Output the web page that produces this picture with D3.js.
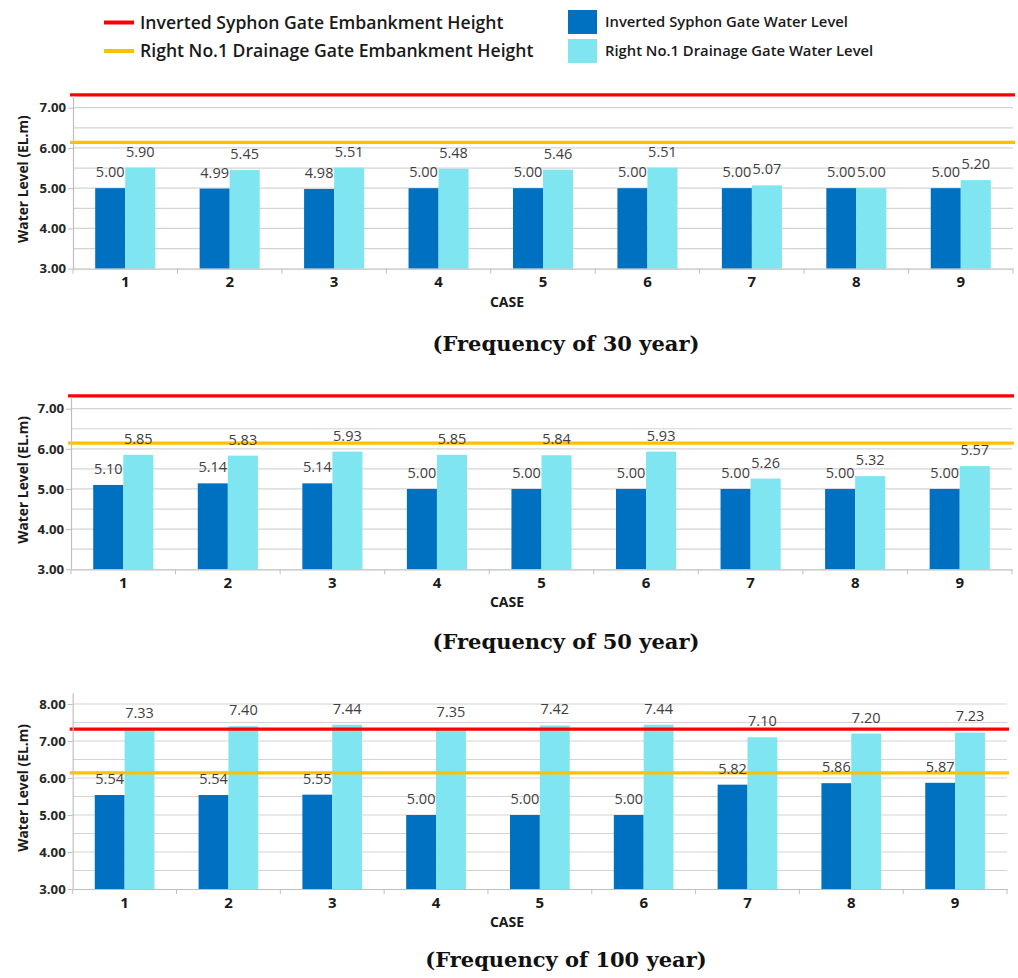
<!DOCTYPE html>
<html><head><meta charset="utf-8">
<script src="https://cdn.jsdelivr.net/npm/d3@7"></script>
<style>body{margin:0;background:#fff}</style>
</head><body>
<svg id="c" width="1018" height="978"></svg>
<script>
// ---- data ----
const cases = ["1","2","3","4","5","6","7","8","9"];
const syphon30 = [5.00,4.99,4.98,5.00,5.00,5.00,5.00,5.00,5.00];
const drainage30 = [5.51,5.45,5.51,5.48,5.46,5.51,5.07,5.00,5.20];
const drainage30Labels = ["5.90","5.45","5.51","5.48","5.46","5.51","5.07","5.00","5.20"];
const syphon50 = [5.10,5.14,5.14,5.00,5.00,5.00,5.00,5.00,5.00];
const drainage50 = [5.85,5.83,5.93,5.85,5.84,5.93,5.26,5.32,5.57];
const syphon100 = [5.54,5.54,5.55,5.00,5.00,5.00,5.82,5.86,5.87];
const drainage100 = [7.33,7.40,7.44,7.35,7.42,7.44,7.10,7.20,7.23];
const syphonEmbankment = 7.32;
const drainageEmbankment = 6.14;
const yTicksA = [3,4,5,6,7];
const yTicksB = [3,4,5,6,7,8];
const captions = ["(Frequency of 30 year)","(Frequency of 50 year)","(Frequency of 100 year)"];
const legendLines = ["Inverted Syphon Gate Embankment Height","Right No.1 Drainage Gate Embankment Height"];
const legendBars = ["Inverted Syphon Gate Water Level","Right No.1 Drainage Gate Water Level"];

// ---- styles ----
const C_DARK = "#0070C0", C_LIGHT = "#7FE5F0", C_RED = "#FF0000", C_YEL = "#FFC000";
const FONT = "'Open Sans', 'Noto Sans', sans-serif";
const svg = d3.select("#c");

// ---- legend ----
const lg = svg.append("g");
[C_RED, C_YEL].forEach((c,i)=>{
  const y = 22.5 + i*28.5;
  lg.append("line").attr("x1",104).attr("x2",134).attr("y1",y).attr("y2",y)
    .attr("stroke",c).attr("stroke-width",4);
  lg.append("text").attr("x",140).attr("y",y).attr("dy","0.36em")
    .attr("font-family",FONT).attr("font-weight",600).attr("font-size",17.6)
    .attr("fill","#1a1a1a").text(legendLines[i]);
});
[C_DARK, C_LIGHT].forEach((c,i)=>{
  const y = 10 + i*29;
  lg.append("rect").attr("x",568).attr("y",y).attr("width",29).attr("height",24).attr("fill",c);
  lg.append("text").attr("x",605).attr("y",y+12).attr("dy","0.36em")
    .attr("font-family",FONT).attr("font-weight",600).attr("font-size",14.8)
    .attr("fill","#1a1a1a").text(legendBars[i]);
});

// ---- panels ----
const panels = [
  {syph: syphon30, drain: drainage30, labels: drainage30Labels, ticks: yTicksA, yMax: 7.3,
   x0: 73, x1: 1013, yBot: 268.7, yTop: 95.6, cap: captions[0], capY: 344},
  {syph: syphon50, drain: drainage50, labels: null, ticks: yTicksA, yMax: 7.3,
   x0: 71, x1: 1012, yBot: 569.3, yTop: 396.6, cap: captions[1], capY: 642},
  {syph: syphon100, drain: drainage100, labels: null, ticks: yTicksB, yMax: 8.3,
   x0: 72.7, x1: 1007, yBot: 889, yTop: 692.9, cap: captions[2], capY: 960}
];

panels.forEach(p=>{
  const g = svg.append("g");
  const x = d3.scaleBand().domain(cases).range([p.x0, p.x1]).padding(0);
  const y = d3.scaleLinear().domain([3, p.yMax]).range([p.yBot, p.yTop]);
  const bw = x.bandwidth()*0.2875;

  // gridlines every 0.5
  const grid = d3.range(3.5, p.yMax+0.001, 0.5);
  g.append("g").selectAll("line").data(grid).join("line")
    .attr("x1",p.x0).attr("x2",p.x1).attr("y1",d=>y(d)).attr("y2",d=>y(d))
    .attr("stroke","#d4d4d4").attr("stroke-width",1.2);

  const rows = cases.map((c,i)=>({c, s:p.syph[i], d:p.drain[i],
      dl: p.labels ? p.labels[i] : d3.format(".2f")(p.drain[i])}));

  // bars
  g.append("g").selectAll("rect").data(rows).join("rect")
    .attr("x",d=>x(d.c)+x.bandwidth()/2-bw).attr("width",bw)
    .attr("y",d=>y(d.s)).attr("height",d=>y(3)-y(d.s)).attr("fill",C_DARK);
  g.append("g").selectAll("rect").data(rows).join("rect")
    .attr("x",d=>x(d.c)+x.bandwidth()/2).attr("width",bw)
    .attr("y",d=>y(d.d)).attr("height",d=>y(3)-y(d.d)).attr("fill",C_LIGHT);

  // embankment lines
  [[syphonEmbankment,C_RED],[drainageEmbankment,C_YEL]].forEach(([v,c])=>{
    g.append("line").attr("x1",p.x0-3).attr("x2",p.x1+2).attr("y1",y(v)).attr("y2",y(v))
      .attr("stroke",c).attr("stroke-width",3.2);
  });

  // left axis
  const la = g.append("g").attr("transform",`translate(${p.x0},0)`)
    .call(d3.axisLeft(y).tickValues(p.ticks).tickFormat(d3.format(".2f")).tickSize(5).tickSizeOuter(0));
  la.select(".domain").attr("stroke","#bfbfbf").attr("stroke-width",1.2);
  la.selectAll(".tick line").attr("stroke","#bfbfbf");
  la.selectAll(".tick text").attr("x",-7).attr("font-family",FONT).attr("font-weight",700)
    .attr("font-size",13.2).attr("fill","#262626");

  // bottom axis
  const ba = g.append("g").attr("transform",`translate(0,${p.yBot})`)
    .call(d3.axisBottom(x).tickSize(0).tickPadding(8));
  ba.select(".domain").attr("stroke","#bfbfbf").attr("stroke-width",1.2);
  ba.selectAll(".tick text").attr("font-family",FONT).attr("font-weight",700)
    .attr("font-size",15).attr("fill","#1a1a1a");
  const bounds = d3.scaleLinear().domain([0,9]).range([p.x0,p.x1]);
  g.append("g").selectAll("line").data(d3.range(0,10)).join("line")
    .attr("x1",d=>bounds(d)).attr("x2",d=>bounds(d))
    .attr("y1",p.yBot).attr("y2",p.yBot+5).attr("stroke","#bfbfbf");

  // data labels
  const lbl = g.append("g").attr("font-family",FONT).attr("font-size",14.5)
    .attr("fill","#404040").attr("text-anchor","middle");
  lbl.selectAll("text.s").data(rows).join("text").attr("class","s")
    .attr("x",d=>x(d.c)+x.bandwidth()/2-bw/2).attr("y",d=>y(d.s)-11)
    .text(d=>d3.format(".2f")(d.s));
  lbl.selectAll("text.d").data(rows).join("text").attr("class","d")
    .attr("x",d=>x(d.c)+x.bandwidth()/2+bw/2).attr("y",d=>y(d.d)-11)
    .text(d=>d.dl);

  // axis titles
  g.append("text").attr("transform",`translate(23,${(p.yBot+p.yTop)/2-3}) rotate(-90)`)
    .attr("text-anchor","middle").attr("dy","0.36em")
    .attr("font-family",FONT).attr("font-weight",700).attr("font-size",13.8)
    .attr("fill","#1a1a1a").text("Water Level (EL.m)");
  g.append("text").attr("x",507).attr("y",p.yBot+33).attr("dy","0.36em")
    .attr("text-anchor","middle").attr("font-family",FONT).attr("font-weight",700)
    .attr("font-size",14).attr("fill","#1a1a1a").text("CASE");

  // caption
  svg.append("text").attr("x",566).attr("y",p.capY).attr("dy","0.35em")
    .attr("text-anchor","middle").attr("font-family","'DejaVu Serif', serif")
    .attr("font-weight",700).attr("font-size",21).attr("fill","#111").text(p.cap);
});
</script>
</body></html>
